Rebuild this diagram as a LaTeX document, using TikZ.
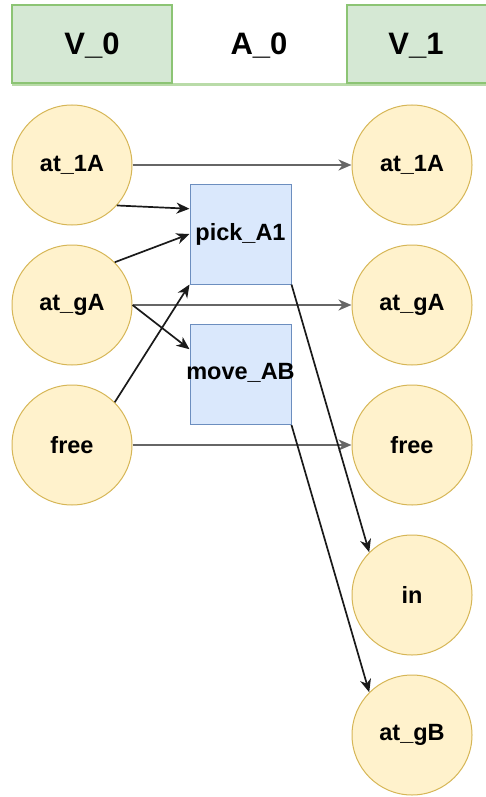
\documentclass[tikz,border=0pt]{standalone}
\usepackage{fontspec}
\setmainfont{Liberation Sans}
\usetikzlibrary{arrows.meta,calc}
\definecolor{hdrfill}{HTML}{D5E8D4}
\definecolor{hdrline}{HTML}{8CC474}
\definecolor{hdrrule}{HTML}{B9DBA8}
\definecolor{factfill}{HTML}{FFF2CC}
\definecolor{factline}{HTML}{D6B656}
\definecolor{actfill}{HTML}{DAE8FC}
\definecolor{actline}{HTML}{6C8EBF}
\definecolor{keep}{HTML}{666666}
\definecolor{link}{HTML}{1A1A1A}
\tikzset{
  fact/.style={circle, draw=factline, fill=factfill, line width=1pt,
    minimum size=120pt, inner sep=0pt,
    font=\fontsize{23.5}{27}\selectfont\bfseries},
  act/.style={rectangle, draw=actline, fill=actfill, line width=1pt,
    minimum width=101pt, minimum height=100pt, inner sep=0pt},
  actlabel/.style={font=\fontsize{23.5}{27}\selectfont\bfseries, inner sep=0pt},
  hdr/.style={draw=hdrline, fill=hdrfill, line width=1.8pt},
  hdrtext/.style={font=\fontsize{31}{36}\selectfont\bfseries},
  persist/.style={draw=keep, line width=1.7pt, -{Stealth[length=13pt,width=11pt,inset=4pt]}},
  effect/.style={draw=link, line width=1.7pt, -{Stealth[length=13pt,width=11pt,inset=4pt]}},
}
\begin{document}
\begin{tikzpicture}[x=1pt,y=-1pt]
\useasboundingbox (0,0) rectangle (486,797);
% header row
\draw[draw=hdrrule, line width=2.2pt] (12,84.5) -- (486,84.5);
\path[hdr] (12,5) rectangle (172,83);
\path[hdr] (347,5) rectangle (488,83);
\node[hdrtext] (hv0) at (92,46) {V\_0};
\node[hdrtext] (ha0) at (259,46) {A\_0};
\node[hdrtext] (hv1) at (416,46) {V\_1};
% state layer 0
\node[fact] (l1) at (72,165) {at\_1A};
\node[fact] (l2) at (72,305) {at\_gA};
\node[fact] (l3) at (72,445) {free};
% actions (labels may run past the box edges)
\node[act] (pa) at (240.5,234) {};
\node[actlabel] (palbl) at (pa.center) {pick\_A1};
\node[act] (mab) at (240.5,374.5) {};
\node[actlabel] (mablbl) at ([yshift=2pt]mab.center) {move\_AB};
% state layer 1
\node[fact] (r1) at (412,165) {at\_1A};
\node[fact] (r2) at (412,305) {at\_gA};
\node[fact] (r3) at (412,445) {free};
\node[fact] (r4) at (412,595) {in};
\node[fact] (r5) at (412,735) {at\_gB};
% facts carried over
\draw[persist] (l1.east) -- (r1.west);
\draw[persist] (l2.east) -- (r2.west);
\draw[persist] (l3.east) -- (r3.west);
% preconditions
\draw[effect] (l1.-42) -- ($(pa.north west)!0.25!(pa.south west)$);
\draw[effect] (l2.45) -- (pa.west);
\draw[effect] (l3.45) -- (pa.south west);
\draw[effect] (l2.east) -- ($(mab.north west)!0.25!(mab.south west)$);
% effects
\draw[effect] (pa.south east) -- (r4.135);
\draw[effect] (mab.south east) -- (r5.135);
\end{tikzpicture}
\end{document}
